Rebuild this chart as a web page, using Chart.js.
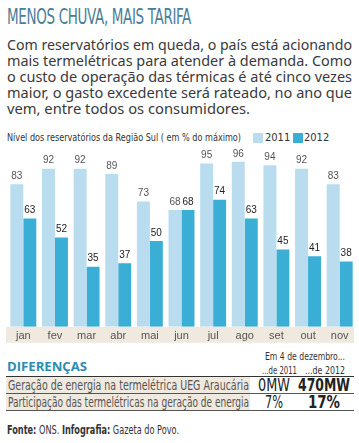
<!DOCTYPE html>
<html>
<head>
<meta charset="utf-8">
<script src="https://cdn.jsdelivr.net/npm/chart.js@4/dist/chart.umd.min.js"></script>
<style>
  body { margin: 0; width: 359px; height: 443px; background: #fff; position: relative; overflow: hidden; font-family: "Liberation Sans Narrow", "DejaVu Sans Condensed", sans-serif; color: #333; }
  .abs { position: absolute; white-space: nowrap; transform-origin: left top; }
  #title { left: 7px; top: 4px; font-size: 22px; color: #4a7d97; letter-spacing: -0.5px; }
  .lede { left: 7px; font-family: "Noto Sans", sans-serif; font-size: 14.5px; color: #3a3a3a; line-height: 16px; }
  #sub { left: 7px; top: 131px; font-size: 11px; color: #333; }
  .sw { position: absolute; width: 10px; height: 10px; }
  .leg { font-size: 11px; color: #333; }
  #chartWrap { position: absolute; left: 0; top: 145px; width: 359px; height: 201px; }
  #dif { left: 7px; top: 357px; font-family: "Open Sans", sans-serif; font-weight: 700; font-size: 13px; color: #2b8cb6; }
  .hd { font-size: 11px; color: #333; }
  .rowbg { position: absolute; left: 6px; width: 244px; height: 16px; background: #efe9df; }
  .rule { position: absolute; left: 6px; width: 348px; height: 1px; background: #555; }
  .rowtxt { left: 8px; font-size: 14px; color: #555; }
  .val { font-size: 18px; color: #222; }
  .bold { font-weight: 700; }
  #fonte { left: 7px; top: 423px; font-size: 12px; color: #333; }
</style>
</head>
<body>
<div id="title" class="abs" data-w="184">MENOS CHUVA, MAIS TARIFA</div>
<div class="abs lede" style="top:36px" data-w="345">Com reservatórios em queda, o país está acionando</div>
<div class="abs lede" style="top:52px" data-w="345">mais termelétricas para atender à demanda. Como</div>
<div class="abs lede" style="top:68px" data-w="345">o custo de operação das térmicas é até cinco vezes</div>
<div class="abs lede" style="top:84px" data-w="345">maior, o gasto excedente será rateado, no ano que</div>
<div class="abs lede" style="top:100px" data-w="243">vem, entre todos os consumidores.</div>

<div id="sub" class="abs" data-w="234">Nível dos reservatórios da Região Sul ( em % do máximo)</div>
<div class="sw" style="left:253px;top:133px;background:#b9dcee"></div>
<div class="abs leg" style="left:265px;top:131px">2011</div>
<div class="sw" style="left:293px;top:133px;background:#3aaed5"></div>
<div class="abs leg" style="left:304px;top:131px">2012</div>

<div id="chartWrap"><canvas id="chart" width="359" height="201"></canvas></div>

<div id="dif" class="abs" data-w="80">DIFERENÇAS</div>
<div class="abs hd" style="left:265px;top:350px" data-w="80">Em 4 de dezembro...</div>
<div class="abs hd" style="left:262px;top:364px" data-w="35">...de 2011</div>
<div class="abs hd" style="left:305px;top:364px" data-w="40">...de 2012</div>
<div class="rule" style="top:376px;background:#333"></div>
<div class="rowbg" style="top:377px"></div>
<div class="rule" style="top:393px"></div>
<div class="rowbg" style="top:394px"></div>
<div class="rule" style="top:410px"></div>
<div class="abs rowtxt" style="top:377px" data-w="241">Geração de energia na termelétrica UEG Araucária</div>
<div class="abs rowtxt" style="top:394px" data-w="241">Participação das termelétricas na geração de energia</div>
<div class="abs val" style="left:258px;top:374px" data-w="32">0MW</div>
<div class="abs val bold" style="left:298px;top:374px" data-w="52">470MW</div>
<div class="abs val" style="left:265px;top:391px" data-w="18">7%</div>
<div class="abs val bold" style="left:308px;top:391px" data-w="32">17%</div>
<div id="fonte" class="abs" data-w="172"><b>Fonte:</b> ONS. <b>Infografia:</b> Gazeta do Povo.</div>

<script>
const months = ["jan", "fev", "mar", "abr", "mai", "jun", "jul", "ago", "set", "out", "nov"];
const level2011 = [83, 92, 92, 89, 73, 68, 95, 96, 94, 92, 83];
const level2012 = [63, 52, 35, 37, 50, 68, 74, 63, 45, 41, 38];
const seriesNames = ["2011", "2012"];

// squeeze text to the widths measured on the original
document.querySelectorAll('[data-w]').forEach((el) => {
    const target = parseFloat(el.dataset.w);
    const w = el.getBoundingClientRect().width;
    if (w > 0) el.style.transform = `scaleX(${target / w})`;
});

const labelsOnTop = {
    id: 'labelsOnTop',
    beforeDraw(chart) {
        // beige strip behind the month names
        const ctx = chart.ctx;
        const xs = chart.scales.x;
        ctx.save();
        ctx.fillStyle = '#efe9df';
        ctx.fillRect(6, xs.top, 348, 16);
        ctx.restore();
    },
    afterDatasetsDraw(chart) {
        const ctx = chart.ctx;
        ctx.save();
        ctx.font = '10px "Liberation Sans Narrow", sans-serif';
        ctx.textAlign = 'center';
        ctx.textBaseline = 'bottom';
        chart.data.datasets.forEach((ds, i) => {
            ctx.fillStyle = i === 0 ? '#555' : '#222';
            chart.getDatasetMeta(i).data.forEach((bar, j) => {
                ctx.fillText(ds.data[j], bar.x, bar.y - 3);
            });
        });
        ctx.restore();
    }
};

new Chart(document.getElementById('chart'), {
    type: 'bar',
    data: {
        labels: months,
        datasets: [
            { label: seriesNames[0], data: level2011, backgroundColor: '#b9dcee' },
            { label: seriesNames[1], data: level2012, backgroundColor: '#3aaed5' },
        ],
    },
    options: {
        responsive: false,
        animation: false,
        events: [],
        layout: { padding: { left: 7.5, right: 3.5, top: 10, bottom: 0 } },
        datasets: { bar: { categoryPercentage: 0.82, barPercentage: 1 } },
        plugins: { legend: { display: false }, tooltip: { enabled: false } },
        scales: {
            x: {
                grid: { display: false, drawTicks: false },
                border: { display: false },
                ticks: {
                    color: '#555',
                    padding: 3,
                    font: { family: '"Liberation Sans Narrow", sans-serif', size: 11 },
                },
            },
            y: { display: false, min: 0, max: 100 },
        },
    },
    plugins: [labelsOnTop],
});
</script>
</body>
</html>
